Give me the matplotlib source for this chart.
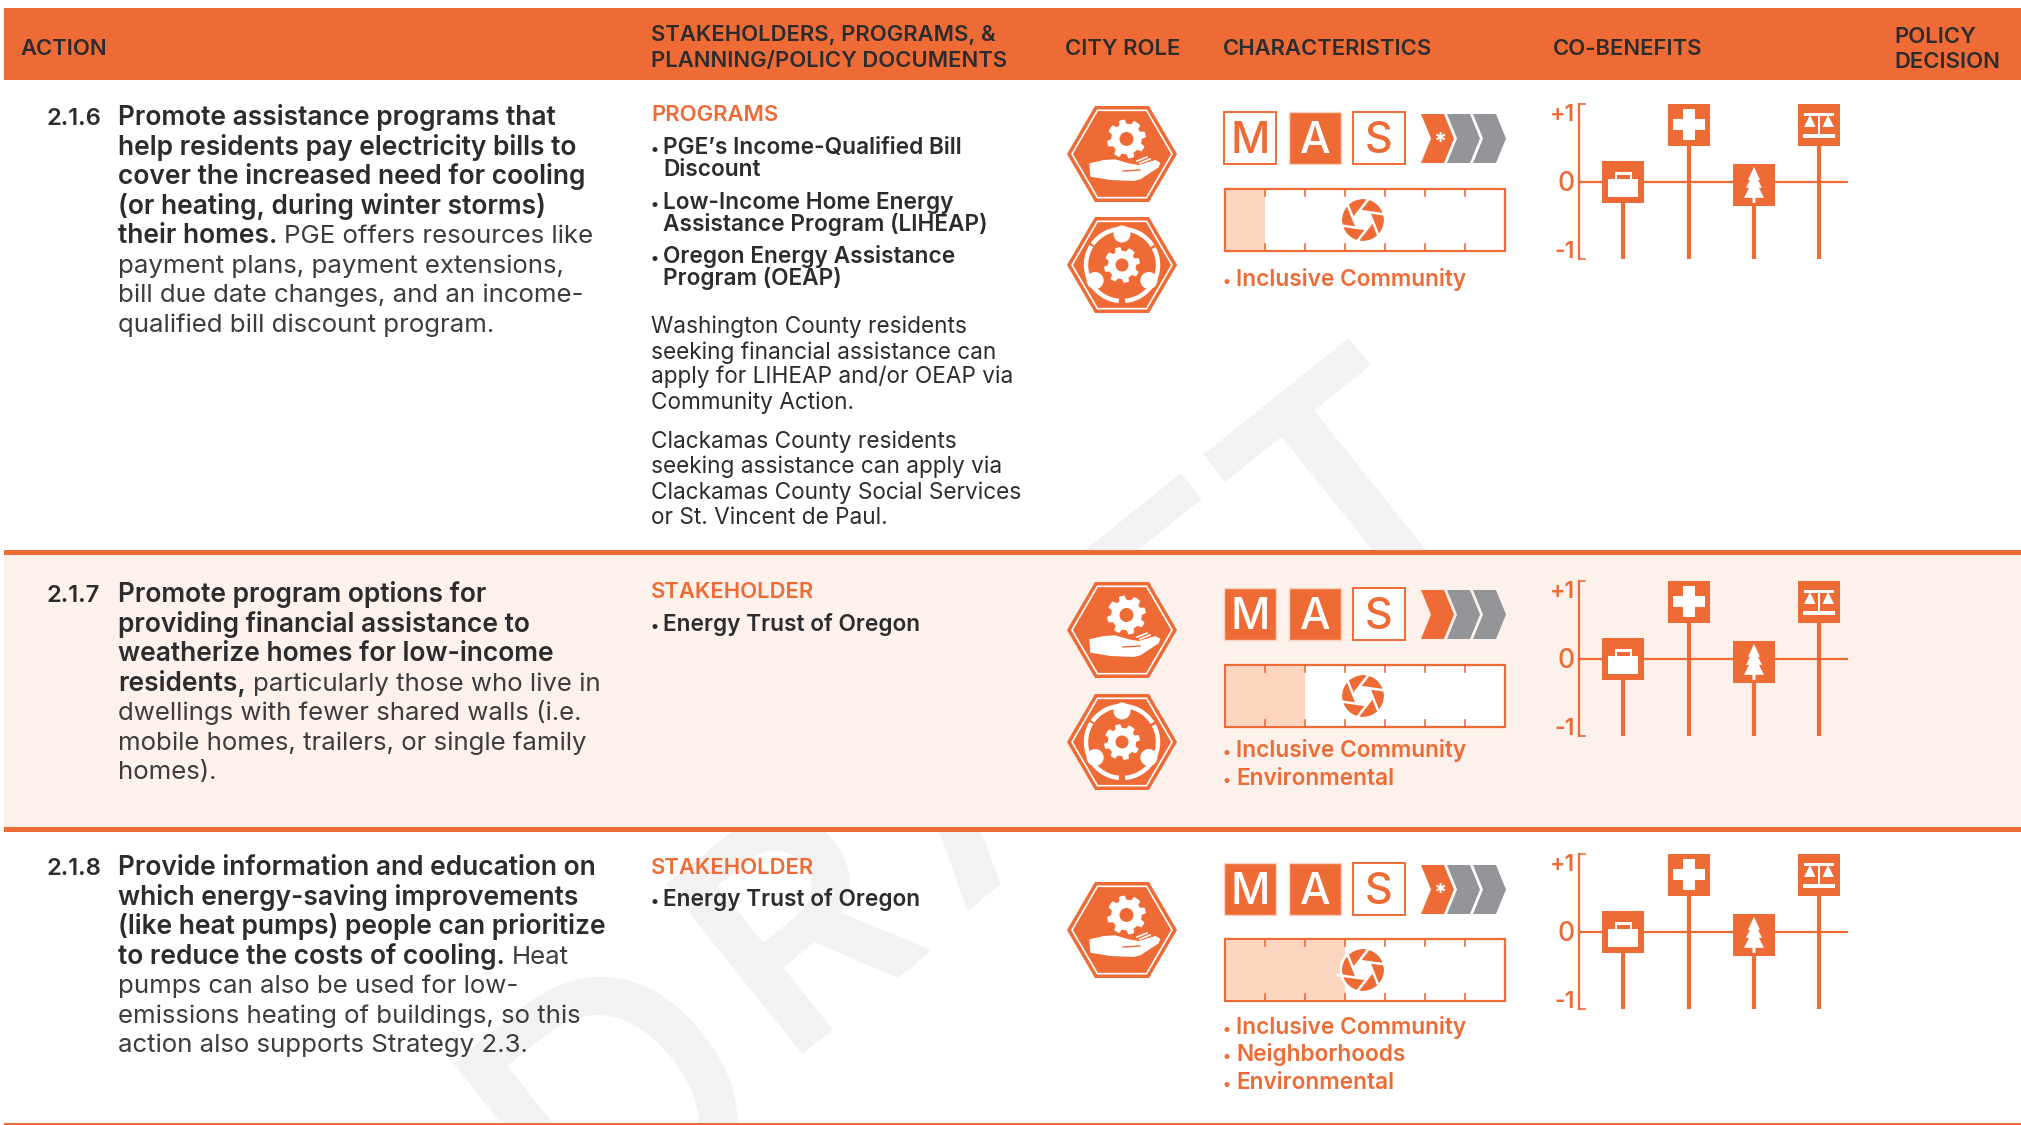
import numpy as np
import matplotlib
matplotlib.use("Agg")
import matplotlib.pyplot as plt
from matplotlib.patches import Rectangle, Polygon, Circle
from matplotlib.textpath import TextPath
from matplotlib.font_manager import FontProperties

ORANGE = "#EE6B36"
PALE = "#FBD5C0"
BAND = "#FCF1EB"
GRAY = "#939598"
DARK = "#2C2C2E"
MARK = "#F2F2F2"
FONT = "Inter"

# table content
headers = ["ACTION", "CITY ROLE", "CHARACTERISTICS", "CO-BENEFITS"]
header_x = [20, 1065, 1223, 1553]
action_nums = ["2.1.6", "2.1.7", "2.1.8"]
action_lines = [
    [("Promote assistance programs that", ""),
     ("help residents pay electricity bills to", ""),
     ("cover the increased need for cooling", ""),
     ("(or heating, during winter storms)", ""),
     ("their homes.", "PGE offers resources like"),
     ("", "payment plans, payment extensions,"),
     ("", "bill due date changes, and an income-"),
     ("", "qualified bill discount program.")],
    [("Promote program options for", ""),
     ("providing financial assistance to", ""),
     ("weatherize homes for low-income", ""),
     ("residents,", "particularly those who live in"),
     ("", "dwellings with fewer shared walls (i.e."),
     ("", "mobile homes, trailers, or single family"),
     ("", "homes).")],
    [("Provide information and education on", ""),
     ("which energy-saving improvements", ""),
     ("(like heat pumps) people can prioritize", ""),
     ("to reduce the costs of cooling.", "Heat"),
     ("", "pumps can also be used for low-"),
     ("", "emissions heating of buildings, so this"),
     ("", "action also supports Strategy 2.3.")],
]
section_titles = ["PROGRAMS", "STAKEHOLDER", "STAKEHOLDER"]
bullets_1 = [["PGE’s Income-Qualified Bill", "Discount"],
             ["Low-Income Home Energy", "Assistance Program (LIHEAP)"],
             ["Oregon Energy Assistance", "Program (OEAP)"]]
notes_1 = ["Washington County residents", "seeking financial assistance can",
           "apply for LIHEAP and/or OEAP via", "Community Action.",
           "Clackamas County residents", "seeking assistance can apply via",
           "Clackamas County Social Services", "or St. Vincent de Paul."]
stakeholder = "Energy Trust of Oregon"
city_roles = [["hand", "people"], ["hand", "people"], ["hand"]]
mas_letters = ["M", "A", "S"]
mas_filled = [[0, 1, 0], [1, 1, 0], [1, 1, 0]]
chevron_star = [1, 0, 1]
chevrons_lit = [1, 1, 1]
spectrum_filled = [1, 2, 3]
spectrum_total = 7
tags = [["Inclusive Community"],
        ["Inclusive Community", "Environmental"],
        ["Inclusive Community", "Neighborhoods", "Environmental"]]
benefit_names = ["jobs", "health", "nature", "equity"]
benefit_values = [[0, 1, -0.05, 1], [0, 1, -0.05, 1], [0, 1, -0.05, 1]]
mark_letters = ["D", "R", "A", "F", "T"]
mark_offsets = [-29, 255, 485, 775, 950]
mark_sizes = [262, 215, 215, 215, 232]
mark_drop = [48, 0, 0, 0, 22]


def fit_size(text, width_px, weight):
    # font size in pt that makes text as wide as the reference
    fp = FontProperties(family=FONT, weight=weight)
    w = TextPath((0, 0), text, size=10, prop=fp).get_extents().width
    return 10 * width_px / w * 1.0


SZ_BOLD = fit_size("Promote assistance programs that", 436, 600) * 0.72
SZ_REG = fit_size("payment plans, payment extensions,", 452, 400) * 0.72 * 0.98
SZ_BUL = fit_size("Energy Trust of Oregon", 254, 600) * 0.72
SZ_NOTE = fit_size("Washington County residents", 322, 400) * 0.72 * 0.975
SZ_HEAD = fit_size("CHARACTERISTICS", 207, 600) * 0.72

fig = plt.figure(figsize=(20.21, 11.25), dpi=100)
ax = fig.add_axes([0, 0, 1, 1])
ax.set_xlim(0, 2021)
ax.set_ylim(1125, 0)
ax.axis("off")


def txt(x, y, s, size, weight=400, color=DARK, **kw):
    return ax.text(x, y, s, fontsize=size, fontweight=weight, color=color,
                   family=FONT, va="baseline", zorder=5, **kw)


def poly(pts, color=ORANGE, z=3, **kw):
    ax.add_patch(Polygon(pts, closed=True, fc=color, ec="none", zorder=z, **kw))


def rect(x0, y0, x1, y1, color=ORANGE, z=3, ec="none", lw=0):
    ax.add_patch(Rectangle((x0, y0), x1 - x0, y1 - y0, fc=color, ec=ec, lw=lw, zorder=z))


def gear(cx, cy, r, hole, bg=ORANGE, z=4):
    ang = np.linspace(0, 2 * np.pi, 64, endpoint=False)
    rad = np.where(((ang + np.pi / 8) % (np.pi / 4)) < np.pi / 8, r, r * 0.78)
    poly(np.c_[cx + rad * np.cos(ang), cy + rad * np.sin(ang)], "white", z)
    ax.add_patch(Circle((cx, cy), hole, fc=bg, ec="none", zorder=z + 0.1))


def hexagon(cx, cy):
    def pts(k):
        return [(cx - 55 * k, cy), (cx - 27 * k, cy - 48 * k), (cx + 27 * k, cy - 48 * k),
                (cx + 55 * k, cy), (cx + 27 * k, cy + 48 * k), (cx - 27 * k, cy + 48 * k)]
    poly(pts(1.0))
    ax.add_patch(Polygon(pts(0.91), closed=True, fc="none", ec="white", lw=1.2, zorder=3.5))


def hand_icon(cx, cy):
    hexagon(cx, cy)
    gear(cx + 4.5, cy - 15, 19.5, 7)
    hand = [(147, 250), (190, 240), (225, 238), (265, 250), (295, 255), (345, 240), (360, 248),
            (355, 262), (300, 298), (280, 303), (210, 300), (150, 290)]
    poly([(cx + (a - 245) / 3, cy + (b - 222) / 3) for a, b in hand], "white", 4)
    ax.plot([cx + 1, cx + 18], [cy + 17, cy + 16], color=ORANGE, lw=1, zorder=4.5)
    ax.plot([cx + 15, cx + 25], [cy + 7, cy + 3], color="white", lw=1.2, zorder=4.5)
    ax.plot([cx + 18, cx + 28], [cy + 9, cy + 5], color="white", lw=1.2, zorder=4.5)


def people_icon(cx, cy):
    hexagon(cx, cy)
    gear(cx, cy, 18, 6.5)
    for a0, a1 in [(-145, -32), (-28, 85), (95, 212)]:
        t = np.radians(np.linspace(a0, a1, 50))
        ax.plot(cx + 36 * np.cos(t), cy + 36 * np.sin(t), color="white", lw=3.2,
                solid_capstyle="butt", zorder=4)
    for a in [-90, 30, 150]:
        ax.add_patch(Circle((cx + 31 * np.cos(np.radians(a)), cy + 31 * np.sin(np.radians(a))),
                            8.5, fc="white", ec="none", zorder=4))


def aperture(cx, cy, r=21):
    ax.add_patch(Circle((cx, cy), r, fc=ORANGE, ec="none", zorder=4))
    for k in range(6):
        a = np.radians(60 * k + 8)
        b = a + np.radians(60)
        ir = r * 0.47
        x0, y0 = cx + ir * np.cos(a), cy + ir * np.sin(a)
        x1, y1 = cx + ir * np.cos(b), cy + ir * np.sin(b)
        d = np.array([x1 - x0, y1 - y0]) / np.hypot(x1 - x0, y1 - y0)
        ax.plot([x0, x0 + d[0] * r * 1.45], [y0, y0 + d[1] * r * 1.45], color="white", lw=1.8,
                solid_capstyle="butt", zorder=4.5)
    t = np.radians(np.arange(0, 360, 60) + 8)
    poly(np.c_[cx + r * 0.47 * np.cos(t), cy + r * 0.47 * np.sin(t)], "white", 4.4)
    th = np.linspace(0, 2 * np.pi, 100)
    ax.plot(cx + (r + 1.2) * np.cos(th), cy + (r + 1.2) * np.sin(th), color="white", lw=1.8, zorder=4.6)


def benefit_icon(name, cx, cy):
    rect(cx - 21, cy - 21, cx + 21, cy + 21, z=4)
    if name == "jobs":
        rect(cx - 15, cy - 3, cx + 15, cy + 15, "white", 5)
        rect(cx - 8.5, cy - 10, cx + 8.5, cy - 3, "white", 5)
        rect(cx - 6.5, cy - 7.5, cx + 6.5, cy - 3.5, ORANGE, 5.5)
    elif name == "health":
        rect(cx - 6, cy - 16, cx + 6, cy + 15, "white", 5)
        rect(cx - 16, cy - 6, cx + 16, cy + 5, "white", 5)
    elif name == "nature":
        poly([(cx, cy - 18), (cx + 6, cy - 5), (cx + 4, cy - 5), (cx + 8, cy + 3), (cx + 5, cy + 3),
              (cx + 10, cy + 13), (cx + 1.5, cy + 13), (cx + 1.5, cy + 18), (cx - 1.5, cy + 18),
              (cx - 1.5, cy + 13), (cx - 10, cy + 13), (cx - 5, cy + 3), (cx - 8, cy + 3),
              (cx - 4, cy - 5), (cx - 6, cy - 5)], "white", 5)
    else:
        rect(cx - 15, cy - 12, cx + 15, cy - 9.5, "white", 5)
        rect(cx - 1, cy - 10, cx + 1, cy + 9, "white", 5)
        rect(cx - 16, cy + 9, cx + 16, cy + 13, "white", 5)
        for s in (-1, 1):
            poly([(cx + s * 9, cy - 10), (cx + s * 15, cy + 2), (cx + s * 3.5, cy + 2)], "white", 5)


# watermark sits under the rows, letters spaced wider than the font does
for s, off, size, drop in zip(mark_letters, mark_offsets, mark_sizes, mark_drop):
    ax.text(582 + 0.78 * off + 0.625 * drop, 1214 - 0.625 * off + 0.78 * drop, s, fontsize=size,
            rotation=38.7, rotation_mode="anchor", ha="left", va="baseline", color=MARK,
            family=FONT, fontweight=500 if size > 250 else 600, zorder=0)

# header band and rows
rect(4, 8, 2021, 80, z=1)
rect(4, 554, 2021, 828, BAND, z=1)
for y, h in [(552.5, 5), (829.5, 5), (1124, 3)]:
    rect(4, y - h / 2, 2021, y + h / 2, z=2)
for s, x in zip(headers, header_x):
    txt(x, 55, s, SZ_HEAD, 600)
txt(651, 41, "STAKEHOLDERS, PROGRAMS, &", SZ_HEAD, 600)
txt(651, 67, "PLANNING/POLICY DOCUMENTS", SZ_HEAD, 600)
txt(1894, 43, "POLICY", SZ_HEAD, 600)
txt(1894, 68, "DECISION", SZ_HEAD, 600)

# action column
line_top = [117, 594, 867]
rend = fig.canvas.get_renderer()
for r, lines in enumerate(action_lines):
    txt(47, line_top[r] + 8, action_nums[r], SZ_BOLD * 0.9, 600)
    for i, (b, n) in enumerate(lines):
        y = line_top[r] + 8 + 29.55 * i
        x = 118
        if b:
            t = txt(x, y, b, SZ_BOLD, 600)
            x = ax.transData.inverted().transform(t.get_window_extent(rend))[1][0] + 7
        if n:
            txt(x, y, n, SZ_REG, 400, "#3C3C3E")

# stakeholders column
section_y = [113, 590, 866]
for r in range(3):
    txt(651, section_y[r] + 8, section_titles[r], SZ_HEAD, 600, ORANGE)
bullet_y = [147, 202, 256]
for y, pair in zip(bullet_y, bullets_1):
    txt(650, y + 7, "•", SZ_BUL * 0.7, 600)
    txt(663, y + 7, pair[0], SZ_BUL, 600)
    txt(663, y + 7 + 22, pair[1], SZ_BUL, 600)
note_y = [326, 352, 376, 402, 441, 466, 492, 517]
for y, s in zip(note_y, notes_1):
    txt(651, y + 7, s, SZ_NOTE)
for y in [624, 899]:
    txt(650, y + 7, "•", SZ_BUL * 0.7, 600)
    txt(663, y + 7, stakeholder, SZ_BUL, 600)

# city role icons
role_y = [[154, 265], [630, 742], [930]]
for roles, ys in zip(city_roles, role_y):
    for role, y in zip(roles, ys):
        (hand_icon if role == "hand" else people_icon)(1122, y)

# characteristics
mas_x = [1223, 1288, 1352]
mas_top = [111, 587, 862]
chev_x = [1421, 1447, 1473]
bar_top = [189, 665, 939]
tag_y = [[278], [749, 777], [1026, 1053, 1081]]
for r in range(3):
    y0 = mas_top[r]
    for x, s, on in zip(mas_x, mas_letters, mas_filled[r]):
        if on:
            rect(x + 1, y0 + 1, x + 53, y0 + 53, ORANGE, ec=PALE, lw=1)
        else:
            rect(x + 1, y0 + 1, x + 53, y0 + 53, "white", ec=ORANGE, lw=1.4)
        txt(x + 27, y0 + 42, s, 31, 500, "white" if on else ORANGE, ha="center")
    for k, x in enumerate(chev_x):
        c = ORANGE if k < chevrons_lit[r] else GRAY
        a, b = y0 + 3, y0 + 52
        m = (a + b) / 2
        poly([(x, a), (x + 23, a), (x + 33, m), (x + 23, b), (x, b), (x + 10, m)], c)
    if chevron_star[r]:
        txt(chev_x[0] + 19, y0 + 38, "*", 17, 700, "white", ha="center")

    # spectrum bar
    top = bar_top[r]
    x0, x1 = 1225, 1505
    step = (x1 - x0) / spectrum_total
    rect(x0, top, x1, top + 62, "white", 3, ORANGE, 1.6)
    rect(x0 + 1, top + 1, x0 + step * spectrum_filled[r], top + 61, PALE, 3.1)
    for k in range(1, spectrum_total):
        xt = x0 + step * k
        ax.plot([xt, xt], [top, top + 7], color=ORANGE, lw=1.2, zorder=3.3)
        ax.plot([xt, xt], [top + 55, top + 62], color=ORANGE, lw=1.2, zorder=3.3)
    aperture(1363, top + 31)
    for y, s in zip(tag_y[r], tags[r]):
        txt(1223, y + 8, "•", SZ_BUL * 0.7, 600, ORANGE)
        txt(1236, y + 8, s, SZ_BUL, 600, ORANGE)

# co-benefits
zero_y = [182, 659, 932]
stem_x = [1623, 1689, 1754, 1819]
for r in range(3):
    z = zero_y[r]
    ax.plot([1579, 1579], [z - 78, z + 77], color=ORANGE, lw=1.6, zorder=3)
    ax.plot([1579, 1585], [z - 78, z - 78], color=ORANGE, lw=1.2, zorder=3)
    ax.plot([1579, 1585], [z + 77, z + 77], color=ORANGE, lw=1.2, zorder=3)
    ax.plot([1579, 1847], [z, z], color=ORANGE, lw=1.6, zorder=3)
    txt(1575, z - 61, "+1", 16.5, 600, ORANGE, ha="right")
    txt(1575, z + 9, "0", 19, 500, ORANGE, ha="right")
    txt(1575, z + 76, "-1", 16.5, 600, ORANGE, ha="right")
    for x, name, v in zip(stem_x, benefit_names, benefit_values[r]):
        ax.plot([x, x], [z - 57 * v, z + 77], color=ORANGE, lw=3, solid_capstyle="butt", zorder=3)
        benefit_icon(name, x, z - 57 * v)

fig.savefig("out.png", dpi=100, facecolor="white")
